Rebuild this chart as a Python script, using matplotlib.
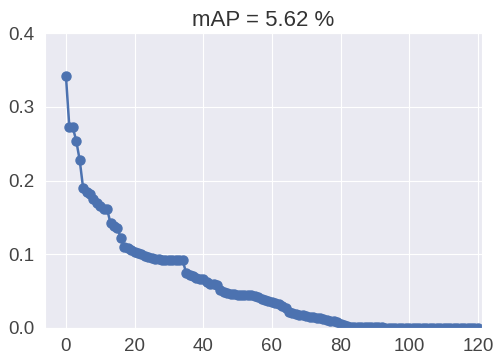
import matplotlib
matplotlib.use("Agg")
import matplotlib.pyplot as plt
import numpy as np
import seaborn as sns

# per-class AP, sorted descending
ap = [
    0.342, 0.272, 0.272, 0.254, 0.228, 0.190, 0.185, 0.182, 0.175, 0.170,
    0.165, 0.162, 0.161, 0.142, 0.138, 0.135, 0.122, 0.110, 0.108, 0.106,
    0.103, 0.102, 0.100, 0.098, 0.096, 0.095, 0.093, 0.093, 0.092, 0.092,
    0.092, 0.092, 0.092, 0.092, 0.092, 0.075, 0.072, 0.070, 0.068, 0.067,
    0.066, 0.063, 0.060, 0.059, 0.058, 0.052, 0.049, 0.047, 0.046, 0.046,
    0.045, 0.045, 0.045, 0.045, 0.045, 0.044, 0.042, 0.040, 0.038, 0.036,
    0.035, 0.034, 0.032, 0.030, 0.027, 0.022, 0.020, 0.019, 0.018, 0.017,
    0.016, 0.015, 0.015, 0.014, 0.013, 0.012, 0.011, 0.010, 0.009, 0.008,
    0.006, 0.004, 0.003, 0.002, 0.002, 0.002, 0.002, 0.002, 0.002, 0.002,
    0.002, 0.002, 0.002, 0.000, 0.000, 0.000, 0.000, 0.000, 0.000, 0.000,
    0.000, 0.000, 0.000, 0.000, 0.000, 0.000, 0.000, 0.000, 0.000, 0.000,
    0.000, 0.000, 0.000, 0.000, 0.000, 0.000, 0.000, 0.000, 0.000, 0.000,
    0.000,
]
x_ticks = [0, 20, 40, 60, 80, 100, 120]
y_ticks = [0.0, 0.1, 0.2, 0.3, 0.4]

sns.set_style("darkgrid")
plt.rcParams["font.family"] = ["Liberation Sans", "DejaVu Sans"]

fig = plt.figure(figsize=(4.96, 3.58), dpi=100)
ax = fig.add_axes([0.0907, 0.0838, 0.881, 0.824])

ax.plot(np.arange(len(ap)), ap, "o-", color="#4c72b0", lw=1.8, ms=6.5)
ax.set_title("mAP = %.2f %%" % 5.62, fontsize=16, color="#333333", pad=5)
ax.set_xlim(-6.1, 121.2)
ax.set_ylim(0, 0.4)
ax.set_xticks(x_ticks)
ax.set_yticks(y_ticks)
ax.tick_params(labelsize=13.5, colors="#444444", pad=4)

fig.savefig("out.png", dpi=100)
